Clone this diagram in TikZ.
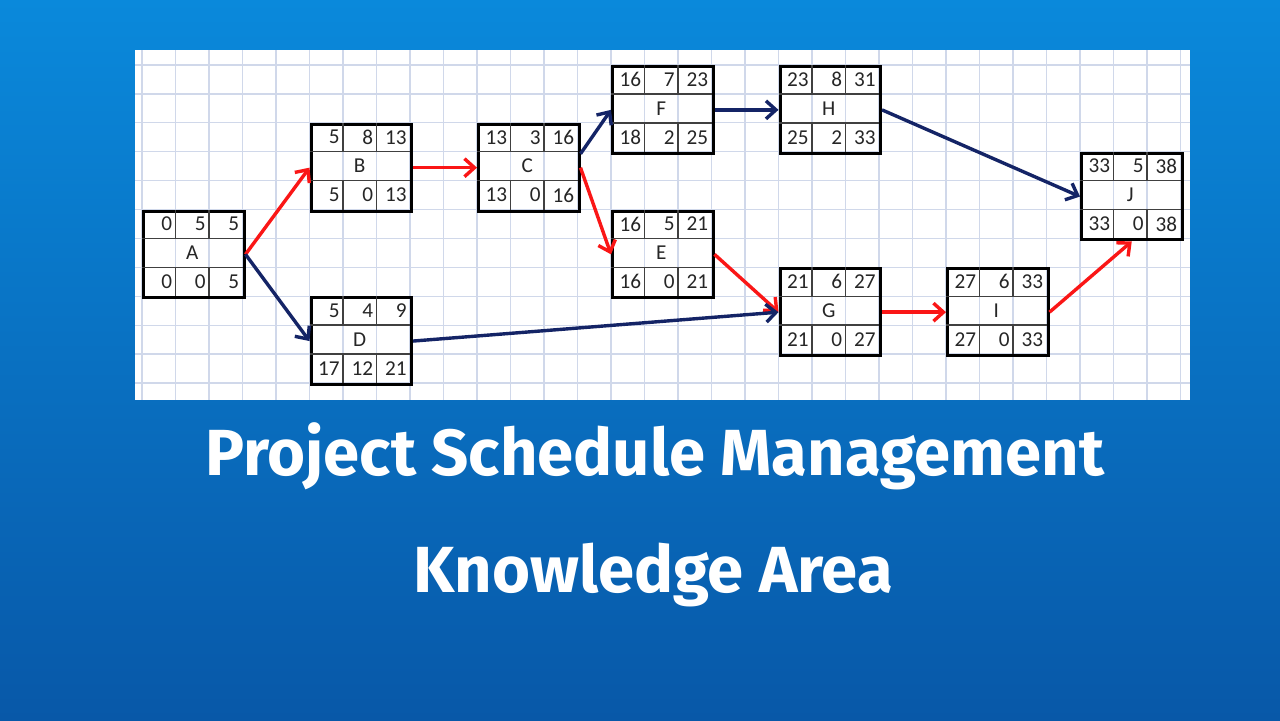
\documentclass[tikz,border=0pt]{standalone}
\usepackage{fontspec}
\newfontfamily\cellfont{Carlito}
\newfontfamily\titlefont{Fira Sans}
\usetikzlibrary{arrows.meta, positioning}

\definecolor{bgtop}{RGB}{10,137,219}
\definecolor{bgbot}{RGB}{8,88,168}
\definecolor{gridblue}{RGB}{208,216,234}
\definecolor{critred}{RGB}{250,22,22}
\definecolor{navy}{RGB}{20,36,102}

% activity box: name, column, row, ES, D, EF, LS, F, LF
\newcommand{\actbox}[9]{%
  \pgfmathsetmacro\bx{142+33.5*#2}
  \pgfmathsetmacro\by{65+28.9*#3}
  \node[actbox] (#1) at (\bx,\by) {};
  \draw[cellline] (\bx,\by+28.9) -- ++(100.5,0);
  \draw[cellline] (\bx,\by+57.8) -- ++(100.5,0);
  \foreach \k in {33.5, 67} {
    \draw[cellline] (\bx+\k,\by) -- ++(0,28.9);
    \draw[cellline] (\bx+\k,\by+57.8) -- ++(0,28.9);
  }
  \foreach \k/\v in {1/#4, 2/#5, 3/#6} {
    \node[val] at (\bx+33.5*\k-3,\by+14.45) {\v};
  }
  \foreach \k/\v in {1/#7, 2/#8, 3/#9} {
    \node[val] at (\bx+33.5*\k-3,\by+72.25) {\v};
  }
  \node[val, anchor=center] at (\bx+50.25,\by+43.35) {#1};
}

\begin{document}
\begin{tikzpicture}[
    x=0.5pt, y=-0.5pt,
    actbox/.style={draw=black, line width=1.5pt, minimum width=50.25pt,
                   minimum height=43.35pt, inner sep=0pt, anchor=north west},
    cellline/.style={draw=black!75, line width=0.7pt},
    val/.style={font=\cellfont\fontsize{10.6}{12}\selectfont, text=black!85,
                anchor=east, inner sep=0pt},
    link/.style={line width=1.7pt, -{Straight Barb[length=5pt, width=9pt]}},
    crit/.style={link, draw=critred},
    free/.style={link, draw=navy},
    title/.style={font=\titlefont\bfseries\fontsize{32.6}{36}\selectfont,
                  text=white, anchor=base, inner sep=0pt}
  ]
  % background
  \shade[top color=bgtop, bottom color=bgbot] (0,0) rectangle (1280,720);
  \useasboundingbox (0,0) rectangle (1280,720);
  % panel with grid
  \fill[white] (135,50) rectangle (1190,400);
  \foreach \k in {0,...,31} {
    \draw[gridblue, line width=0.6pt] (142+33.5*\k,50) -- (142+33.5*\k,400);
  }
  \foreach \k in {0,...,11} {
    \draw[gridblue, line width=0.6pt] (135,65+28.9*\k) -- (1190,65+28.9*\k);
  }
  % activities
  \actbox{A}{0}{5}{0}{5}{5}{0}{0}{5}
  \actbox{B}{5}{2}{5}{8}{13}{5}{0}{13}
  \actbox{D}{5}{8}{5}{4}{9}{17}{12}{21}
  \actbox{C}{10}{2}{13}{3}{16}{13}{0}{16}
  \actbox{F}{14}{0}{16}{7}{23}{18}{2}{25}
  \actbox{E}{14}{5}{16}{5}{21}{16}{0}{21}
  \actbox{H}{19}{0}{23}{8}{31}{25}{2}{33}
  \actbox{G}{19}{7}{21}{6}{27}{21}{0}{27}
  \actbox{I}{24}{7}{27}{6}{33}{27}{0}{33}
  \actbox{J}{28}{3}{33}{5}{38}{33}{0}{38}
  % links
  \draw[crit] (A.east) -- (B.west);
  \draw[free] (A.east) -- (D.west);
  \draw[crit] (B.east) -- (C.west);
  \draw[free] (C.15) -- (F.west);
  \draw[crit] (C.east) -- (E.west);
  \draw[free] (F.east) -- (H.west);
  \draw[free] (H.east) -- (J.west);
  \draw[crit] (E.east) -- (G.west);
  \draw[free] (D.east) -- (G.west);
  \draw[crit] (G.east) -- (I.west);
  \draw[crit] (I.east) -- (J.south);
  % title
  \node[title] (t1) at (655,475) {Project Schedule Management};
  \node[title] (t2) at (653,592) {Knowledge Area};
\end{tikzpicture}
\end{document}
